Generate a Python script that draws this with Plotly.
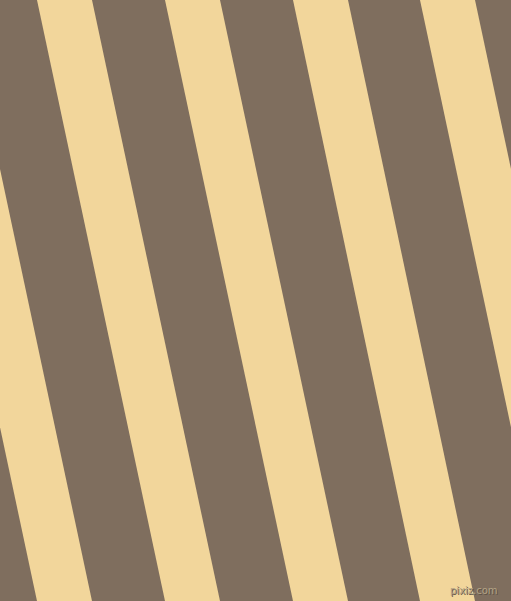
import plotly.graph_objects as go

canvas_w = 511
canvas_h = 601
stripe_left_top = [-91, 37, 165, 293, 420]
stripe_left_bottom = [37, 165, 293, 420, 548]
stripe_width = 55

brown = "#7f6e5e"
yellow = "#f2d69b"

fig = go.Figure()
for top, bottom in zip(stripe_left_top, stripe_left_bottom):
    fig.add_trace(go.Scatter(
        x=[top, top + stripe_width, bottom + stripe_width, bottom, top],
        y=[0, 0, canvas_h, canvas_h, 0],
        mode="lines",
        line=dict(width=0, color=yellow),
        fill="toself",
        fillcolor=yellow,
        hoverinfo="skip",
        showlegend=False,
    ))

# small watermark, bottom right
fig.add_annotation(
    x=500, y=590, text="pixiz.com", showarrow=False,
    xanchor="right", yanchor="middle",
    font=dict(family="DejaVu Sans", size=10, color="#b3a385",
              shadow="1px 1px 0px #5e5246"),
)

fig.update_layout(
    width=canvas_w, height=canvas_h,
    margin=dict(l=0, r=0, t=0, b=0),
    paper_bgcolor=brown, plot_bgcolor=brown,
    xaxis=dict(range=[0, canvas_w], visible=False, fixedrange=True),
    yaxis=dict(range=[canvas_h, 0], visible=False, fixedrange=True),
)

fig.write_html("out.html", config={"displayModeBar": False},
               post_script="document.body.style.margin='0';")
